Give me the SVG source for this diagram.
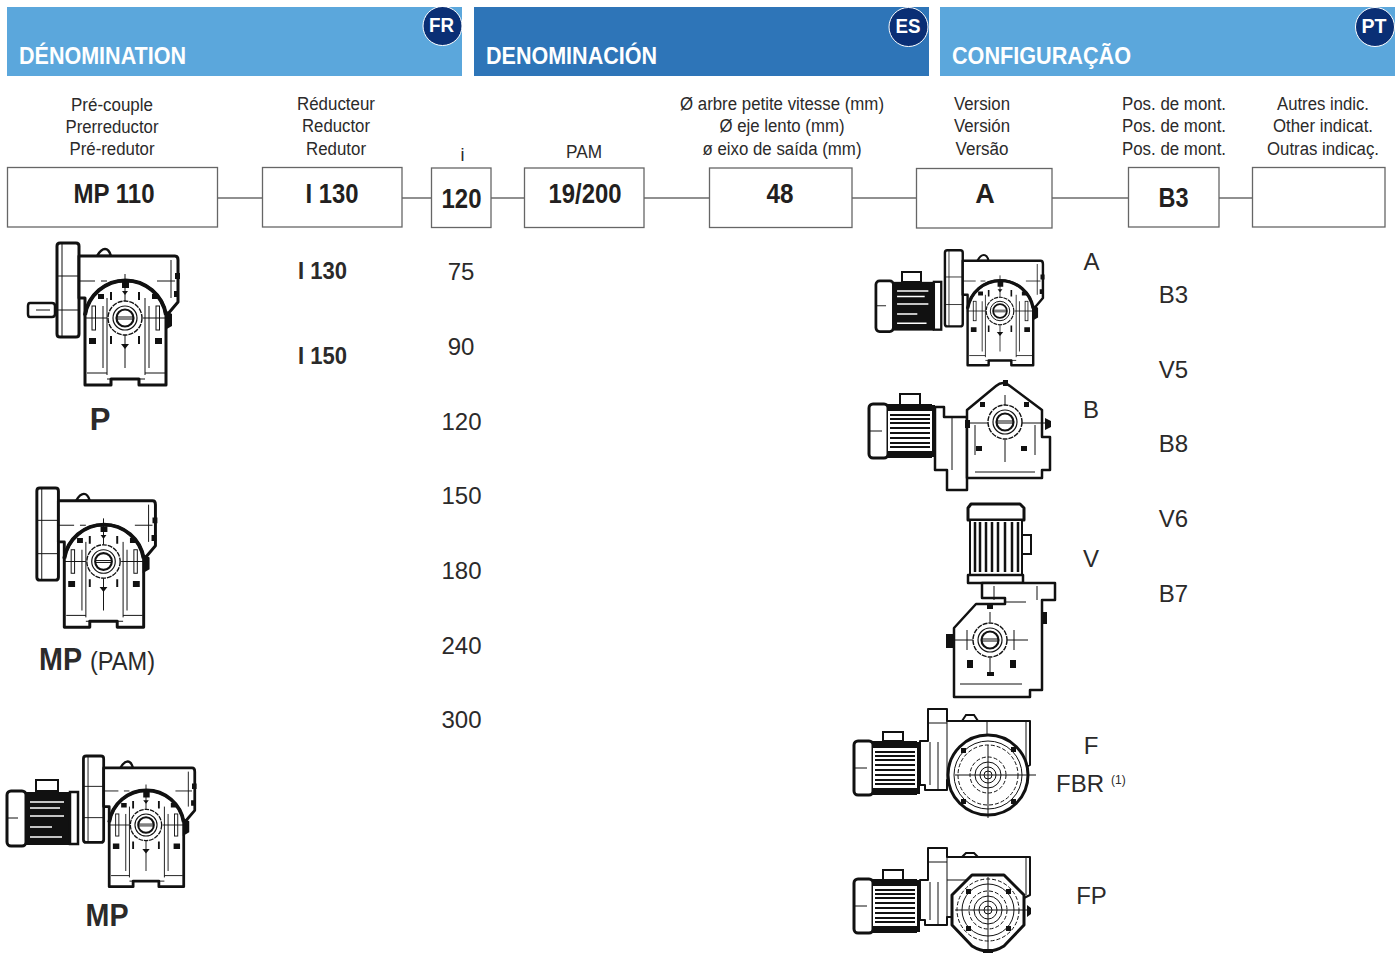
<svg xmlns="http://www.w3.org/2000/svg" width="1399" height="955" viewBox="0 0 1399 955">
<style>
text{font-family:"Liberation Sans",Arial,sans-serif;fill:#2b2a2a}
.h{font-size:24px;font-weight:bold;fill:#fff}
.b{font-size:19.5px;font-weight:bold;fill:#fff;text-anchor:middle}
.s{font-size:18px;text-anchor:middle}
.v{font-size:24px;text-anchor:middle}
.n{font-size:27px;font-weight:bold;text-anchor:middle;fill:#231f20}
.box{fill:#fff;stroke:#666;stroke-width:1.3}
.con{stroke:#222;stroke-width:1.1;fill:none}
.k{fill:none;stroke:#111;stroke-width:2;stroke-linejoin:round}
.t{fill:#fff;stroke:#111;stroke-width:3;stroke-linejoin:round}
.f{fill:none;stroke:#111;stroke-width:1}
.d{fill:none;stroke:#111;stroke-width:1;stroke-dasharray:4 2}
.w{stroke:#fff;stroke-width:1.6;fill:none}
</style>
<defs>
<clipPath id="c1"><rect x="7" y="7" width="455" height="69"/></clipPath>
<clipPath id="c2"><rect x="474" y="7" width="455" height="69"/></clipPath>
<clipPath id="c3"><rect x="940" y="7" width="455" height="69"/></clipPath>
<g id="hub">
<circle r="17" fill="#fff" stroke="#111" stroke-width="1.4" stroke-dasharray="5 1"/>
<circle r="12" fill="none" stroke="#111" stroke-width="1.2"/>
<circle r="8.500" fill="none" stroke="#111" stroke-width="2.200"/>
<path d="M-8,-1H8M-8,1H8" stroke="#111" stroke-width="1"/>
</g>
<g id="gbFront">
<path class="t" d="M-68,-72Q-68,-75 -65,-75H-49Q-46,-75 -46,-72V16Q-46,19 -49,19H-65Q-68,19 -68,16Z"/>
<path class="f" d="M-63,-75V19M-46,-42H-68M-46,-8H-68"/>
<path d="M-28,-62Q-24,-69 -20,-69H-20Q-16,-69 -14,-62Z" fill="#fff" stroke="#111" stroke-width="2.500"/>
<path class="t" d="M-46,-62H50Q53,-62 53,-58V-16L42,-3H-40V-20H-46Z"/>
<path class="f" d="M-46,-37H-30M-24,-37H-18M-6,-37H12M32,-37H50M46,-58V-20"/>
<path d="M50,-45h5v6h-5zM49,-27h5v6h-5z" fill="#111"/>
<path class="t" d="M-40,-3A41,41 0 0 1 41,-3V67H14V61H-14V67H-40Z"/>
<path d="M-40,-3A41,41 0 0 1 41,-3" fill="none" stroke="#111" stroke-width="4"/>
<path class="f" d="M-18,-20V57M20,-20V57M-38,55H-18M20,55H40M-18,61H20M-22,-12V50M24,-12V50"/>
<path d="M-36,20h7v6h-7zM-3,-36h7v6h-7zM30,20h7v6h-7zM-27,-24h6v5h-6zM27,-24h6v5h-6zM40,-8l7,4v12l-7,4z" fill="#111"/>
<rect x="-33" y="-12" width="3.500" height="24" fill="#fff" stroke="#111"/>
<rect x="31" y="-12" width="3.500" height="24" fill="#fff" stroke="#111"/>
<path class="f" d="M-41,0H-18M18,0H46M0,-44V-16M0,16V50"/>
<path d="M-4,26h8l-4,5zM-3,-27h6l-3,4z" fill="#111"/>
<path d="M-14,-26v8M14,-26v8M-14,18v8M14,18v8" stroke="#111" stroke-width="2"/>
<use href="#hub"/>
</g>
<g id="motDark">
<rect x="1" y="1" width="19" height="55" rx="4" fill="#fff" stroke="#111" stroke-width="3"/>
<path class="f" d="M1,28H12"/>
<rect x="20" y="2" width="44" height="53" fill="#111"/>
<path class="w" d="M24,12H58M24,18H54M24,26H58M24,37H46M24,47H56"/>
<rect x="64" y="2" width="8" height="52" fill="#fff" stroke="#111" stroke-width="2.500"/>
</g>
<g id="motLight">
<rect x="1" y="1" width="19" height="54" rx="4" fill="#fff" stroke="#111" stroke-width="3"/>
<path class="f" d="M1,28H14"/>
<rect x="20" y="2" width="44" height="52" fill="#fff"/>
<path d="M20,1H64V8H20ZM20,48H64V55H20Z" fill="#111"/>
<path d="M22,12H62M22,16H62M22,20H62M22,25H62M22,30H62M22,35H62M22,40H62M22,44H62" stroke="#111" stroke-width="2"/>
<path d="M64,2H67V54H64Z" fill="#111"/>
</g>
</defs>

<g id="banner-fr">
<rect x="7" y="7" width="455" height="69" fill="#5ba7dc"/>
<g clip-path="url(#c1)"><circle cx="442.500" cy="26" r="19.500" fill="#0a2f75" stroke="#fff" stroke-width="1"/></g>
<text class="b" x="441.500" y="32" textLength="25" lengthAdjust="spacingAndGlyphs">FR</text>
<text class="h" x="19" y="64" textLength="167" lengthAdjust="spacingAndGlyphs">DÉNOMINATION</text>
</g>
<g id="banner-es">
<rect x="474" y="7" width="455" height="69" fill="#2e75b8"/>
<g clip-path="url(#c2)"><circle cx="908.500" cy="27" r="19.500" fill="#0a2f75" stroke="#fff" stroke-width="1"/></g>
<text class="b" x="908" y="33" textLength="25" lengthAdjust="spacingAndGlyphs">ES</text>
<text class="h" x="486" y="64" textLength="171" lengthAdjust="spacingAndGlyphs">DENOMINACIÓN</text>
</g>
<g id="banner-pt">
<rect x="940" y="7" width="455" height="69" fill="#5ba7dc"/>
<g clip-path="url(#c3)"><circle cx="1375" cy="27" r="19.500" fill="#0a2f75" stroke="#fff" stroke-width="1"/></g>
<text class="b" x="1374" y="33" textLength="25" lengthAdjust="spacingAndGlyphs">PT</text>
<text class="h" x="952" y="64" textLength="179" lengthAdjust="spacingAndGlyphs">CONFIGURAÇÃO</text>
</g>

<g id="column-labels">
<text class="s" x="112" y="111" textLength="82" lengthAdjust="spacingAndGlyphs">Pré-couple</text>
<text class="s" x="112" y="133" textLength="93" lengthAdjust="spacingAndGlyphs">Prerreductor</text>
<text class="s" x="112" y="155" textLength="85" lengthAdjust="spacingAndGlyphs">Pré-redutor</text>
<text class="s" x="336" y="110" textLength="78" lengthAdjust="spacingAndGlyphs">Réducteur</text>
<text class="s" x="336" y="132" textLength="68" lengthAdjust="spacingAndGlyphs">Reductor</text>
<text class="s" x="336" y="155" textLength="60" lengthAdjust="spacingAndGlyphs">Redutor</text>
<text class="s" x="462.500" y="161">i</text>
<text class="s" x="584" y="158" textLength="36" lengthAdjust="spacingAndGlyphs">PAM</text>
<text class="s" x="782" y="110" textLength="204" lengthAdjust="spacingAndGlyphs">Ø arbre petite vitesse (mm)</text>
<text class="s" x="782" y="132" textLength="125" lengthAdjust="spacingAndGlyphs">Ø eje lento (mm)</text>
<text class="s" x="782" y="155" textLength="159" lengthAdjust="spacingAndGlyphs">ø eixo de saída (mm)</text>
<text class="s" x="982" y="110" textLength="56" lengthAdjust="spacingAndGlyphs">Version</text>
<text class="s" x="982" y="132" textLength="56" lengthAdjust="spacingAndGlyphs">Versión</text>
<text class="s" x="982" y="155" textLength="53" lengthAdjust="spacingAndGlyphs">Versão</text>
<text class="s" x="1174" y="110" textLength="104" lengthAdjust="spacingAndGlyphs">Pos. de mont.</text>
<text class="s" x="1174" y="132" textLength="104" lengthAdjust="spacingAndGlyphs">Pos. de mont.</text>
<text class="s" x="1174" y="155" textLength="104" lengthAdjust="spacingAndGlyphs">Pos. de mont.</text>
<text class="s" x="1323" y="110" textLength="92" lengthAdjust="spacingAndGlyphs">Autres indic.</text>
<text class="s" x="1323" y="132" textLength="100" lengthAdjust="spacingAndGlyphs">Other indicat.</text>
<text class="s" x="1323" y="155" textLength="112" lengthAdjust="spacingAndGlyphs">Outras indicaç.</text>
</g>

<g id="connectors">
<path class="con" d="M217,198H262M402,198H431M491,198H524M644,198H709M852,198H916M1052,198H1128M1219,198H1252"/>
</g>

<g id="box-mp110"><rect class="box" x="7.500" y="167.500" width="210" height="59.500"/><text class="n" x="114" y="203" textLength="81" lengthAdjust="spacingAndGlyphs">MP 110</text></g>
<g id="box-i130"><rect class="box" x="262.500" y="167.500" width="139.500" height="59.500"/><text class="n" x="332" y="203" textLength="53" lengthAdjust="spacingAndGlyphs">I 130</text></g>
<g id="box-120"><rect class="box" x="431.500" y="168" width="59.500" height="59.500"/><text class="n" x="461.500" y="208" textLength="40" lengthAdjust="spacingAndGlyphs">120</text></g>
<g id="box-19-200"><rect class="box" x="524.500" y="168" width="119.500" height="59.500"/><text class="n" x="585" y="203" textLength="73" lengthAdjust="spacingAndGlyphs">19/200</text></g>
<g id="box-48"><rect class="box" x="709.500" y="168" width="142.500" height="59.500"/><text class="n" x="780" y="203" textLength="27" lengthAdjust="spacingAndGlyphs">48</text></g>
<g id="box-a"><rect class="box" x="916.500" y="168.500" width="135.500" height="59.500"/><text class="n" x="985" y="203">A</text></g>
<g id="box-b3"><rect class="box" x="1128.500" y="167.500" width="90.500" height="59.500"/><text class="n" x="1173.500" y="207" textLength="30" lengthAdjust="spacingAndGlyphs">B3</text></g>
<g id="box-blank"><rect class="box" x="1252.500" y="167.500" width="132.500" height="59.500"/></g>

<g id="reducer-list">
<text x="298" y="279" style="font-size:23px;font-weight:bold" textLength="49" lengthAdjust="spacingAndGlyphs">I 130</text>
<text x="298" y="364" style="font-size:23px;font-weight:bold" textLength="49" lengthAdjust="spacingAndGlyphs">I 150</text>
</g>
<g id="ratio-list">
<text class="v" x="461" y="280">75</text>
<text class="v" x="461" y="355">90</text>
<text class="v" x="461.500" y="430">120</text>
<text class="v" x="461.500" y="504">150</text>
<text class="v" x="461.500" y="579">180</text>
<text class="v" x="461.500" y="654">240</text>
<text class="v" x="461.500" y="728">300</text>
</g>
<g id="pos-list">
<text class="v" x="1173.500" y="303">B3</text>
<text class="v" x="1173.500" y="378">V5</text>
<text class="v" x="1173.500" y="452">B8</text>
<text class="v" x="1173.500" y="527">V6</text>
<text class="v" x="1173.500" y="602">B7</text>
</g>
<g id="version-list">
<text class="v" x="1091.500" y="270">A</text>
<text class="v" x="1091" y="418">B</text>
<text class="v" x="1091" y="567">V</text>
<text class="v" x="1091" y="754">F</text>
<text class="v" x="1080" y="792">FBR</text>
<text x="1111" y="784" style="font-size:12px">(1)</text>
<text class="v" x="1091.500" y="904">FP</text>
</g>

<g id="drawing-p">
<path d="M30,303H52Q55,303 55,306V314Q55,317 52,317H30Q28,317 28,314V306Q28,303 30,303Z" fill="#fff" stroke="#111" stroke-width="2.500"/>
<path class="f" d="M36,310H50"/>
<use href="#gbFront" x="125" y="318"/>
<text x="100" y="430" style="font-size:31px;font-weight:bold;text-anchor:middle">P</text>
</g>
<g id="drawing-mp-pam">
<use href="#gbFront" transform="translate(103.500,561.500) scale(.98)"/>
<text x="39" y="670" style="font-size:31px;font-weight:bold" textLength="43" lengthAdjust="spacingAndGlyphs">MP</text>
<text x="90" y="670" style="font-size:25px" textLength="65" lengthAdjust="spacingAndGlyphs">(PAM)</text>
</g>
<g id="drawing-mp">
<rect x="36" y="780" width="22" height="11" fill="#fff" stroke="#111" stroke-width="2"/>
<use href="#motDark" transform="translate(6,790)"/>
<use href="#gbFront" transform="translate(146,825) scale(.92)"/>
<text x="107" y="926" style="font-size:31px;font-weight:bold;text-anchor:middle" textLength="43" lengthAdjust="spacingAndGlyphs">MP</text>
</g>
<g id="drawing-a">
<rect x="902" y="272" width="19" height="10" fill="#fff" stroke="#111" stroke-width="2"/>
<use href="#motDark" transform="translate(875,280) scale(.92)"/>
<use href="#gbFront" transform="translate(1000,311) scale(.81)"/>
</g>
<g id="drawing-b">
<rect x="900" y="394" width="20" height="11" fill="#fff" stroke="#111" stroke-width="2"/>
<use href="#motLight" transform="translate(868,403)"/>
<path class="t" d="M935,407H944V417H967V490H947V470H935Z" style="stroke-width:2.500"/>
<path class="t" d="M967,410L996,386Q1003,380 1010,386L1042,410V437H1050V470H1042V478H967Z" style="stroke-width:2.500"/>
<path class="f" d="M952,417V470M975,472H1035M975,425V455M1035,425V455"/>
<path class="f" d="M968,423H988M1022,423H1046M1005,395V405M1005,440V462"/>
<path d="M976,446h6v5h-6zM1021,446h6v5h-6zM1003,380h5v6h-5zM1045,418l6,3v6l-6,3zM980,402h5v5h-5zM1024,402h5v5h-5zM965,420h5v8h-5z" fill="#111"/>
<use href="#hub" transform="translate(1005,422)"/>
</g>
<g id="drawing-v">
<rect x="1022" y="535" width="9" height="19" fill="#fff" stroke="#111" stroke-width="2"/>
<path class="t" d="M971,504H1020L1024,508V520H968V508Z"/>
<rect x="970" y="520" width="52" height="55" fill="#fff" stroke="#111" stroke-width="2"/>
<path d="M975,522V572M980,522V572M986,522V572M992,522V572M998,522V572M1005,522V572M1012,522V572M1018,522V572" stroke="#111" stroke-width="2.500"/>
<path class="t" d="M968,575H1023V583H968Z" style="stroke-width:2.500"/>
<path class="t" d="M982,583H1055V600H1042V690H1030V697H954V628L976,604H1005V598H982Z" style="stroke-width:2.500"/>
<path class="f" d="M994,586V600M1037,586V600M1006,602H1026M960,684H1022"/>
<path d="M946,634h7v14h-7zM1043,612h4v12h-4zM967,660h6v8h-6zM1010,660h6v8h-6zM987,672h7v4h-7zM987,604h6v5h-6z" fill="#111"/>
<path class="f" d="M955,640H1028M990,612V622M990,658V676M967,630V650M1014,630V650"/>
<use href="#hub" transform="translate(990,640)"/>
</g>
<g id="drawing-f">
<rect x="883" y="732" width="20" height="9" fill="#fff" stroke="#111" stroke-width="2"/>
<use href="#motLight" transform="translate(853,740)"/>
<path class="t" d="M920,741H928V709H947V721H1030V765L1018,772H968V780H947V790H925V785H920Z" style="stroke-width:2"/>
<path class="f" d="M928,723H947M987,721V735M947,770H968M1026,722V770M930,742V785M938,742V790M947,721V780"/>
<path d="M962,721l4,-6h8l4,6z" fill="#fff" stroke="#111" stroke-width="2"/>
<circle cx="988" cy="775" r="40" fill="#fff" stroke="#111" stroke-width="3"/>
<circle cx="988" cy="775" r="34" fill="none" stroke="#111" stroke-width="1"/>
<circle cx="988" cy="775" r="30" class="d"/>
<circle cx="988" cy="775" r="18" class="d"/>
<circle cx="988" cy="775" r="13" class="f"/>
<circle cx="988" cy="775" r="8" class="f"/>
<circle cx="988" cy="775" r="4" class="f"/>
<path class="f" d="M955,775H1036M988,745V818"/>
<path d="M961,748h5v5h-5zM1011,747h5v5h-5zM1011,799h5v5h-5zM961,799h5v5h-5z" fill="#111"/>
</g>
<g id="drawing-fp">
<rect x="883" y="870" width="20" height="10" fill="#fff" stroke="#111" stroke-width="2"/>
<use href="#motLight" transform="translate(853,878)"/>
<path class="t" d="M920,880H928V848H947V857H1030V895L1020,900H968V917H947V925H925V920H920Z" style="stroke-width:2"/>
<path class="f" d="M928,862H947M947,880H968M1026,858V895M930,882V920M938,882V925M947,857V917"/>
<path d="M962,857l4,-4h8l4,4z" fill="#fff" stroke="#111" stroke-width="2"/>
<path d="M972,875H1004L1024,895V925L1004,946Q988,956 972,946L952,925V895Z" fill="#fff" stroke="#111" stroke-width="3" stroke-linejoin="round"/>
<circle cx="988" cy="910" r="31" class="d"/>
<circle cx="988" cy="910" r="26" class="f"/>
<circle cx="988" cy="910" r="19" class="d"/>
<circle cx="988" cy="910" r="14" class="f"/>
<circle cx="988" cy="910" r="9" class="f"/>
<circle cx="988" cy="910" r="4" class="f"/>
<path class="f" d="M955,910H1030M988,877V950"/>
<path d="M966,889h5v5h-5zM1006,889h5v5h-5zM1006,926h5v5h-5zM966,926h5v5h-5zM1027,905l4,3v6l-4,3zM983,949h10v4h-10z" fill="#111"/>
</g>
</svg>
